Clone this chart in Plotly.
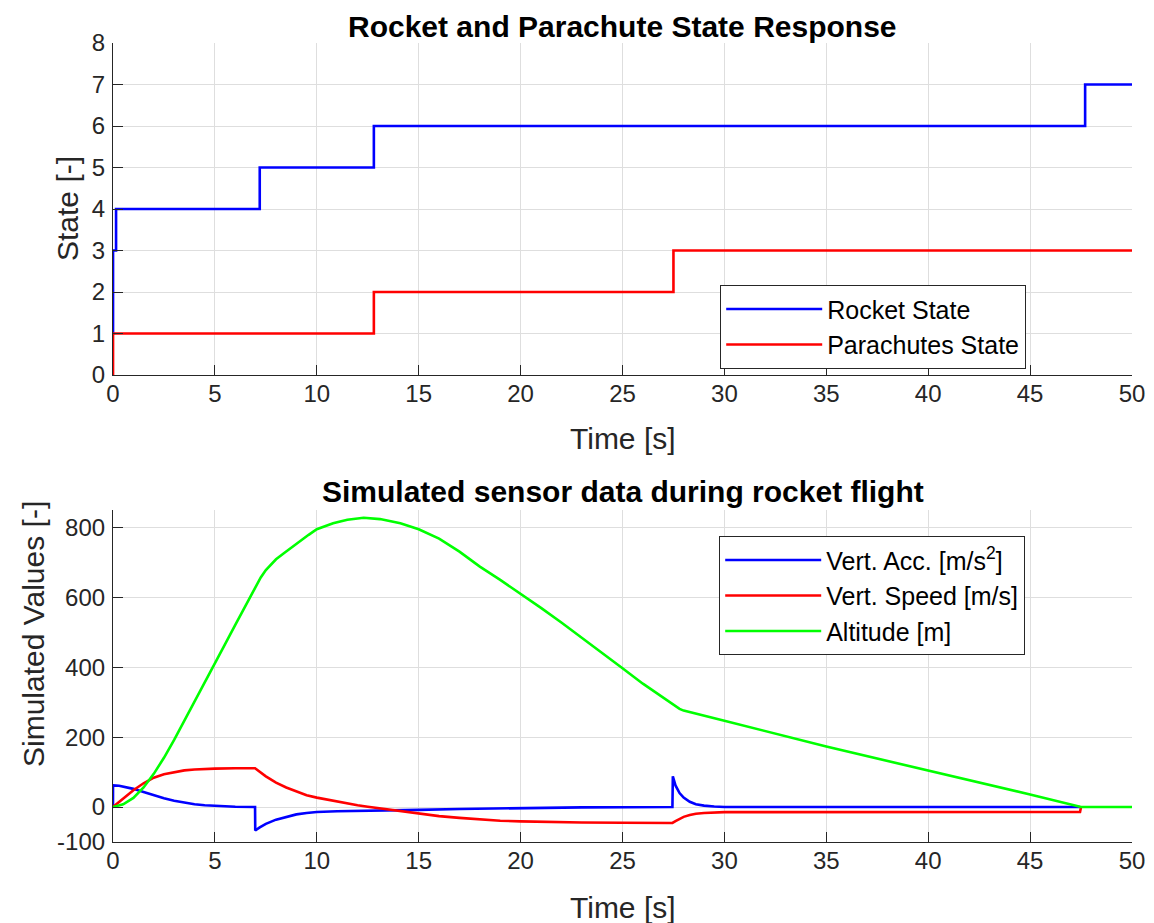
import plotly.graph_objects as go

# ---------------- Data ----------------
# Top: state responses (step signals)
rocket_t = [0, 0.002, 0.15, 7.2, 12.8, 47.7, 50]
rocket_state = [1, 3, 4, 5, 6, 7, 7]

para_t = [0, 0.002, 12.8, 27.5, 50]
para_state = [0, 1, 2, 3, 3]

# Bottom: simulated sensor data
acc_t = [0, 0.001, 0.3, 0.6, 1, 1.5, 2, 2.5, 3, 3.5, 4, 4.5, 5, 5.5, 6, 6.97, 6.98,
         7.2, 7.5, 8, 8.5, 9, 9.5, 10, 11, 12, 13, 14, 15, 17, 20, 23, 27.45, 27.47,
         27.6, 27.8, 28, 28.3, 28.6, 29, 29.5, 30, 47.45]
acc = [0, 62, 61, 58, 52, 43, 33, 25, 18, 12, 8, 5, 3, 2, 1, 0, -67,
       -58, -48, -36, -28, -21, -17, -14, -12, -10.5, -9.5, -8.5, -8, -5.5, -2.5, -1, 0, 88,
       62, 40, 27, 15, 8, 4, 1.5, 0, 0]

spd_t = [0, 0.5, 1, 1.5, 2, 2.5, 3, 3.5, 4, 4.5, 5, 6, 6.97, 7.5, 8, 8.5, 9, 9.5, 10,
         10.5, 11, 11.5, 12, 12.5, 13, 14, 15, 16, 17, 18, 19, 20, 21, 22, 23, 25,
         27.45, 27.6, 27.8, 28, 28.3, 28.6, 29, 29.5, 30, 47.45, 47.5]
spd = [0, 25, 48, 68, 84, 94, 100, 105, 107.5, 109, 110, 111, 111, 88, 70, 56, 44, 34, 27,
       21, 15, 10, 5, 1, -3, -12, -19, -26, -31, -36, -39, -41, -42.5, -43.5, -44, -45,
       -45.5, -40, -33, -28, -23, -19, -17, -15, -14.5, -14, 0]

alt_t = [0, 0.5, 1, 1.5, 2, 2.5, 3, 3.5, 4, 4.5, 5, 5.5, 6, 6.5, 7, 7.25, 7.5, 7.75, 8,
         8.4, 8.8, 9.2, 9.6, 10, 10.8, 11.5, 12.3, 13.1, 14.1, 15, 16, 17, 18, 19, 20,
         21, 22, 23, 24, 25, 26, 27, 27.5, 27.8, 28, 28.5, 29, 30, 35, 40, 45, 47.5, 50]
alt = [0, 8, 26, 56, 95, 141, 192, 246, 300, 355, 410, 466, 521, 577, 632, 657, 678, 695, 709,
       727, 745, 762, 779, 795, 812, 822, 828, 824, 812, 795, 768, 731, 688, 650, 611,
       570, 528, 485, 441, 397, 353, 312, 292, 281, 276, 269, 262, 247, 173, 105, 36, 0, 0]

x_ticks = [0, 5, 10, 15, 20, 25, 30, 35, 40, 45, 50]
top_y_ticks = [0, 1, 2, 3, 4, 5, 6, 7, 8]
bot_y_ticks = [-100, 0, 200, 400, 600, 800]

# ---------------- Figure ----------------
FONT = "Liberation Sans, Arial, sans-serif"
AX_COL = "#262626"
GRID_COL = "#dedede"
LW = 2.6

# the page body adds an 8 px offset; compensate so the plot lands where the reference has it
OFF = 8
W, H = 1154 - OFF, 923 - OFF
ML, MR, MT, MB = 113 - OFF, 22, 43 - OFF, 81
PW = W - ML - MR   # 1019
PH = H - MT - MB   # 799


def px_x(px):
    return (px - 113) / PW


def px_y(py):
    return (842 - py) / PH


fig = go.Figure()

fig.add_trace(go.Scatter(x=rocket_t, y=rocket_state, mode="lines", line_shape="hv",
                         line=dict(color="#0000ff", width=LW), name="Rocket State",
                         xaxis="x", yaxis="y", legend="legend"))
fig.add_trace(go.Scatter(x=para_t, y=para_state, mode="lines", line_shape="hv",
                         line=dict(color="#ff0000", width=LW), name="Parachutes State",
                         xaxis="x", yaxis="y", legend="legend"))

fig.add_trace(go.Scatter(x=acc_t, y=acc, mode="lines",
                         line=dict(color="#0000ff", width=LW),
                         name="Vert. Acc. [m/s<sup>2</sup>]",
                         xaxis="x2", yaxis="y2", legend="legend2"))
fig.add_trace(go.Scatter(x=spd_t, y=spd, mode="lines",
                         line=dict(color="#ff0000", width=LW),
                         name="Vert. Speed [m/s]",
                         xaxis="x2", yaxis="y2", legend="legend2"))
fig.add_trace(go.Scatter(x=alt_t, y=alt, mode="lines",
                         line=dict(color="#00ff00", width=LW),
                         name="Altitude [m]",
                         xaxis="x2", yaxis="y2", legend="legend2"))

axis_common = dict(
    showline=True, linecolor=AX_COL, linewidth=1.2, mirror=False,
    ticks="inside", ticklen=10, tickcolor=AX_COL, tickwidth=1.2,
    showgrid=True, gridcolor=GRID_COL, gridwidth=1, zeroline=False,
    automargin=False,
    tickfont=dict(family=FONT, size=24, color=AX_COL),
)

top_dom = [px_y(375), 1.0]
bot_dom = [0.0, px_y(510)]

fig.update_layout(
    width=W, height=H,
    margin=dict(l=ML, r=MR, t=MT, b=MB),
    paper_bgcolor="white", plot_bgcolor="white",
    font=dict(family=FONT, color=AX_COL),
    xaxis=dict(domain=[0, 1], range=[0, 50], tickvals=x_ticks, anchor="y",
               ticklabelstandoff=-3, **axis_common),
    yaxis=dict(domain=top_dom, range=[0, 8], tickvals=top_y_ticks, anchor="x",
               ticklabelstandoff=2, **axis_common),
    xaxis2=dict(domain=[0, 1], range=[0, 50], tickvals=x_ticks, anchor="y2",
                ticklabelstandoff=-3, **axis_common),
    yaxis2=dict(domain=bot_dom, range=[-100, 850], tickvals=bot_y_ticks,
                ticktext=[str(v) for v in bot_y_ticks], anchor="x2",
                ticklabelstandoff=2, **axis_common),
    legend=dict(x=px_x(720), y=px_y(285), xanchor="left", yanchor="top",
                bgcolor="white", bordercolor=AX_COL, borderwidth=1.2,
                font=dict(family=FONT, size=25, color="black"),
                itemwidth=96, tracegroupgap=0),
    legend2=dict(x=px_x(719), y=px_y(536), xanchor="left", yanchor="top",
                 bgcolor="white", bordercolor=AX_COL, borderwidth=1.2,
                 font=dict(family=FONT, size=25, color="black"),
                 itemwidth=96, tracegroupgap=0),
    showlegend=True,
)

ann = [
    dict(text="<b>Rocket and Parachute State Response</b>", x=0.5, y=px_y(26),
         font=dict(family=FONT, size=30, color="black")),
    dict(text="<b>Simulated sensor data during rocket flight</b>", x=0.5, y=px_y(491),
         font=dict(family=FONT, size=30, color="black")),
    dict(text="Time [s]", x=0.5, y=px_y(438),
         font=dict(family=FONT, size=30, color=AX_COL)),
    dict(text="Time [s]", x=0.5, y=px_y(907),
         font=dict(family=FONT, size=30, color=AX_COL)),
    dict(text="State [-]", x=px_x(67), y=px_y(209), textangle=-90,
         font=dict(family=FONT, size=30, color=AX_COL)),
    dict(text="Simulated Values [-]", x=px_x(33), y=px_y(634), textangle=-90,
         font=dict(family=FONT, size=30, color=AX_COL)),
]
for a in ann:
    a.update(xref="paper", yref="paper", xanchor="center", yanchor="middle", showarrow=False)
fig.update_layout(annotations=ann)

fig.write_html("out.html")
